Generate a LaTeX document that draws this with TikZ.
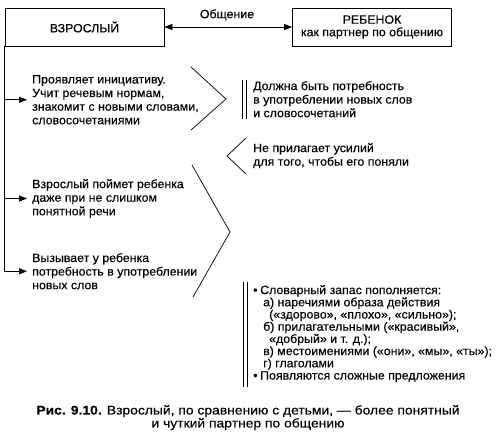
\documentclass[tikz,border=0pt]{standalone}
\usepackage{fontspec}
\setmainfont{Liberation Sans}[FakeStretch=1.03,FakeBold=0.3]
\newfontfamily\capfont{Liberation Sans}[FakeStretch=1.11,FakeBold=0.3]
\usetikzlibrary{arrows.meta}
\begin{document}
\begin{tikzpicture}[x=1pt,y=-1pt,
  every node/.style={font=\fontsize{12}{13.6}\selectfont, inner sep=0pt},
  box/.style={draw, line width=0.7pt, minimum width=159pt, minimum height=38pt, align=center},
  txt/.style={anchor=north west, align=left},
  tip/.tip={Triangle[length=8pt,width=6pt]},
  arr/.style={line width=0.7pt, -tip, shorten >=5pt},
  ln/.style={line width=0.7pt}]
\useasboundingbox (0,0) rectangle (500,439);
\node[box] (vz) at (84.5,27) {ВЗРОСЛЫЙ};
\node[box, font=\fontsize{12}{12.5}\selectfont] (reb) at (372,27) {РЕБЕНОК\\как партнер по общению};
\draw[ln, tip-tip] (vz.east) -- (reb.west);
\node (obs) at (227,15) {Общение};

\node[txt] (t1) at (32,75) {Проявляет инициативу.\\Учит речевым нормам,\\знакомит с новыми словами,\\словосочетаниями};
\node[txt] (t2) at (32,179) {Взрослый поймет ребенка\\даже при не слишком\\понятной речи};
\node[txt] (t3) at (32,253) {Вызывает у ребенка\\потребность в употреблении\\новых слов};
\node[txt] (r1) at (253,81) {Должна быть потребность\\в употреблении новых слов\\и словосочетаний};
\node[txt] (r2) at (253,143) {Не прилагает усилий\\для того, чтобы его поняли};
\node[txt, font=\fontsize{12}{12.2}\selectfont] (r3) at (253,285) {\makebox[7pt][l]{•}Словарный запас пополняется:\\
\hspace*{10pt}а) наречиями образа действия\\
\hspace*{16pt}(«здорово», «плохо», «сильно»);\\
\hspace*{10pt}б) прилагательными («красивый»,\\
\hspace*{16pt}«добрый» и т. д.);\\
\hspace*{10pt}в) местоимениями («они», «мы», «ты»);\\
\hspace*{10pt}г) глаголами\\
\makebox[7pt][l]{•}Появляются сложные предложения};

\draw[arr] (vz.south west) |- (t3.west);
\draw[arr] (vz.south west |- t1.west) -- (t1.west);
\draw[arr] (vz.south west |- t2.west) -- (t2.west);

\draw[ln] (191,67) -- (226,99) -- (191,130);
\draw[ln] (246,138) -- (227,156) -- (246,174);
\draw[ln] (192,165) -- (230,232) -- (193,297);
\draw[ln] (242,80) -- (242,119) (246,80) -- (246,119);
\draw[ln] (243,282) -- (243,387) (247,282) -- (247,387);

\node[align=center, anchor=north, font=\capfont\fontsize{12.5}{13}\selectfont] (cap) at (248,405) {\textbf{Рис. 9.10.} Взрослый, по сравнению с детьми, — более понятный\\и чуткий партнер по общению};
\end{tikzpicture}
\end{document}
